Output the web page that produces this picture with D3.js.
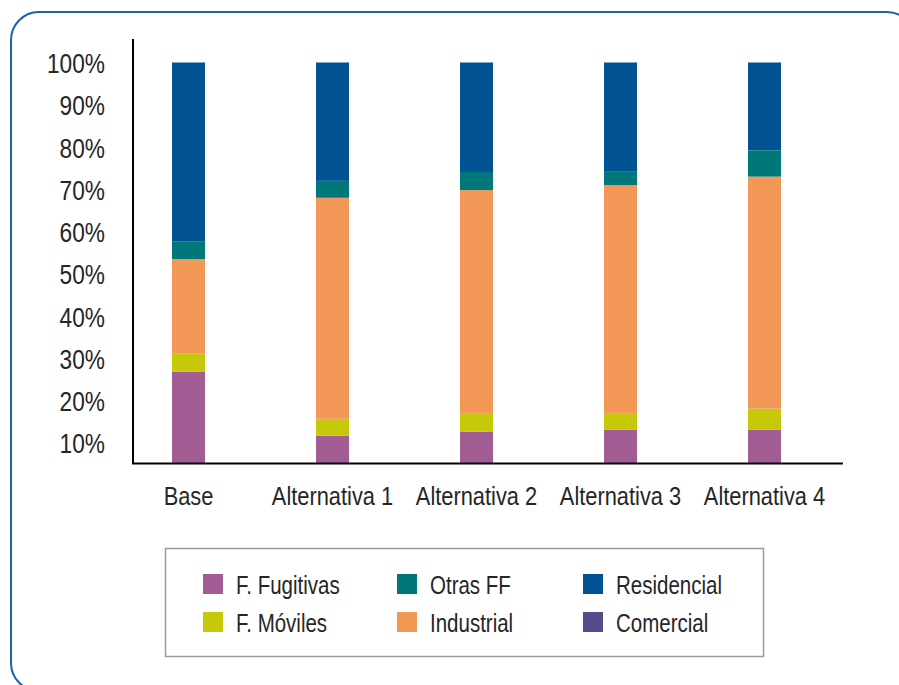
<!DOCTYPE html>
<html>
<head>
<meta charset="utf-8">
<script src="https://cdn.jsdelivr.net/npm/d3@7"></script>
<style>
  html, body { margin: 0; padding: 0; background: #fff; }
  svg { display: block; }
  text { font-family: "Liberation Sans", Arial, sans-serif; fill: #262626; }
</style>
</head>
<body>
<svg id="chart" width="899" height="685"></svg>
<script>
// Escenarios y participación de cada fuente (fracción del total)
const categories = ["Base", "Alternativa 1", "Alternativa 2", "Alternativa 3", "Alternativa 4"];
const seriesNames = ["F. Fugitivas", "F. Móviles", "Industrial", "Otras FF", "Residencial", "Comercial"];
const fugitivas   = [0.268, 0.117, 0.126, 0.131, 0.131];
const moviles     = [0.043, 0.040, 0.045, 0.040, 0.050];
const industrial  = [0.224, 0.523, 0.527, 0.539, 0.549];
const otrasFF     = [0.041, 0.040, 0.043, 0.033, 0.062];
const residencial = [0.424, 0.280, 0.259, 0.257, 0.208];
const comercial   = [0, 0, 0, 0, 0];
const yTicks = [0.1, 0.2, 0.3, 0.4, 0.5, 0.6, 0.7, 0.8, 0.9, 1.0];
const colors = ["#a15d94", "#c6c80a", "#f29756", "#00787a", "#005293", "#554a8a"];

const seriesValues = [fugitivas, moviles, industrial, otrasFF, residencial, comercial];
const rows = categories.map((c, i) => {
  const r = { cat: c };
  seriesNames.forEach((s, k) => { r[s] = seriesValues[k][i]; });
  return r;
});

// Condensa el texto horizontalmente alrededor de su punto de anclaje
function condense(sel, sx) {
  sel.each(function () {
    const t = d3.select(this);
    const tx = +t.attr("x") || 0, ty = +t.attr("y") || 0;
    t.attr("x", 0).attr("y", 0)
     .attr("transform", `translate(${tx},${ty}) scale(${sx},1)`);
  });
}

const svg = d3.select("#chart");

// Marco redondeado
svg.append("rect")
  .attr("x", 11).attr("y", 12)
  .attr("width", 904).attr("height", 679)
  .attr("rx", 28).attr("ry", 28)
  .attr("fill", "none")
  .attr("stroke", "#1d62a3")
  .attr("stroke-width", 2);

const plotLeft = 133, plotRight = 843, plotTop = 39, plotBottom = 464;

const x = d3.scaleBand()
  .domain(categories)
  .range([116.5, 836.5])
  .paddingInner(111 / 144)
  .paddingOuter(111 / 288);

const y = d3.scaleLinear()
  .domain([0.05, 1])
  .range([plotBottom, 62.5])
  .clamp(true);

const layers = d3.stack().keys(seriesNames)(rows);

svg.append("g")
  .selectAll("g.layer")
  .data(layers)
  .join("g")
  .attr("class", "layer")
  .attr("fill", (d, i) => colors[i])
  .selectAll("rect")
  .data(d => d)
  .join("rect")
  .attr("x", d => x(d.data.cat))
  .attr("width", x.bandwidth())
  .attr("y", d => y(d[1]))
  .attr("height", d => Math.max(0, y(d[0]) - y(d[1])));

// Ejes
svg.append("line")
  .attr("x1", plotLeft).attr("x2", plotLeft)
  .attr("y1", plotTop).attr("y2", plotBottom)
  .attr("stroke", "#000").attr("stroke-width", 2);
svg.append("line")
  .attr("x1", plotLeft - 1).attr("x2", plotRight)
  .attr("y1", plotBottom - 0.5).attr("y2", plotBottom - 0.5)
  .attr("stroke", "#000").attr("stroke-width", 2);

const yAxis = d3.axisLeft(y)
  .tickValues(yTicks)
  .tickSize(0)
  .tickPadding(28)
  .tickFormat(d3.format(".0%"));
const ya = svg.append("g").attr("transform", `translate(${plotLeft},0)`).call(yAxis);
ya.select(".domain").remove();
ya.selectAll("text")
  .attr("font-size", 27)
  .attr("font-family", null)
  .attr("dy", null)
  .attr("y", 10)
  .style("fill", "#262626")
  .call(condense, 0.84);

const xAxis = d3.axisBottom(x).tickSize(0).tickPadding(0);
const xa = svg.append("g").attr("transform", `translate(0,${plotBottom})`).call(xAxis);
xa.select(".domain").remove();
xa.selectAll("text")
  .attr("font-size", 26)
  .attr("font-family", null)
  .attr("dy", null)
  .attr("y", 41)
  .style("fill", "#262626")
  .call(condense, 0.84);

// Leyenda
svg.append("rect")
  .attr("x", 165.5).attr("y", 548.5)
  .attr("width", 598).attr("height", 108)
  .attr("fill", "#fff")
  .attr("stroke", "#9a9a9a")
  .attr("stroke-width", 1.5);

const legendOrder = [0, 1, 3, 2, 4, 5];
const colX = [203, 397, 583];
const rowY = [574, 612];
const lg = svg.append("g");
legendOrder.forEach((k, j) => {
  const cx = colX[Math.floor(j / 2)], cy = rowY[j % 2];
  lg.append("rect")
    .attr("x", cx).attr("y", cy)
    .attr("width", 20).attr("height", 20)
    .attr("fill", colors[k]);
  lg.append("text")
    .attr("x", cx + 33).attr("y", cy + 20)
    .attr("font-size", 25)
    .text(seriesNames[k])
    .call(condense, 0.82);
});
</script>
</body>
</html>
